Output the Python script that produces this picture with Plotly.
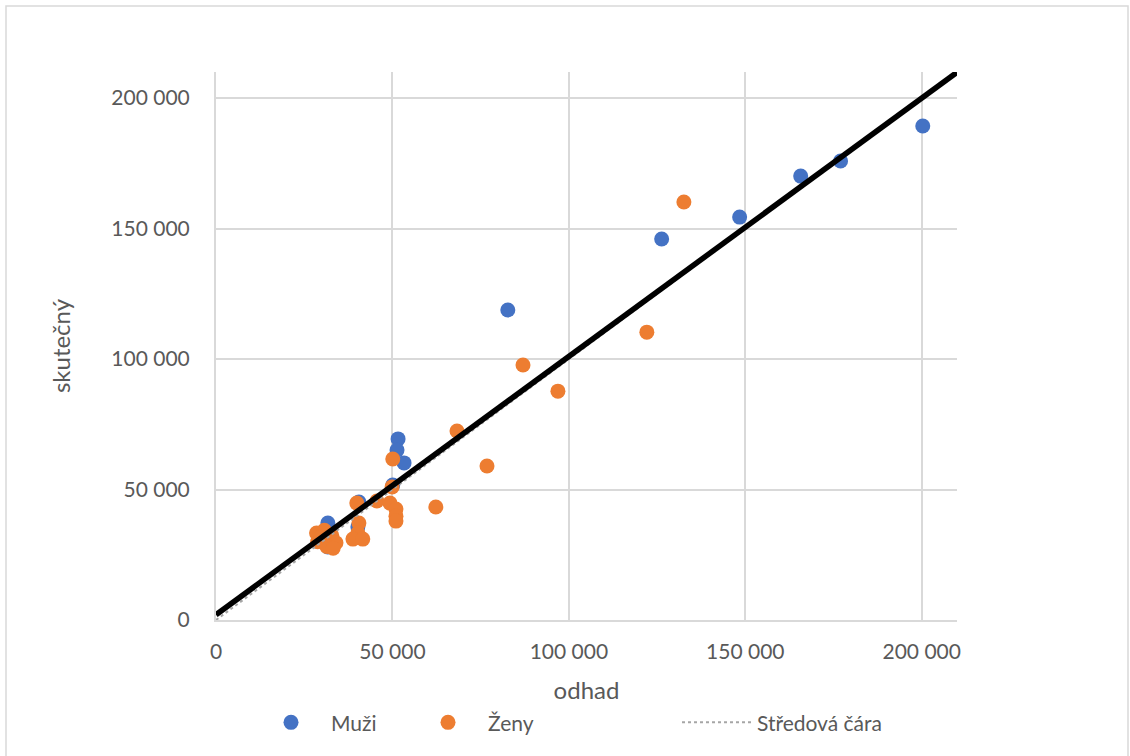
import plotly.graph_objects as go

# Muži (men): estimate vs actual
muzi_odhad = [200300, 177000, 165700, 148400, 126300, 82700, 51600, 51300, 53300,
              50100, 40500, 40200, 31700, 31700]
muzi_skutecny = [189300, 175900, 170100, 154400, 146000, 118800, 69400, 65100, 60200,
                 51700, 45200, 35600, 37200, 28000]

# Ženy (women)
zeny_odhad = [132600, 122100, 87000, 96900, 68300, 76800, 50100, 62300, 49900, 45600,
              39900, 49300, 51000, 51000, 51000, 40500, 40200, 38800, 41600,
              28500, 28800, 30700, 32800, 34000, 31400, 33200, 29800]
zeny_skutecny = [160200, 110300, 97700, 87700, 72400, 59000, 61700, 43300, 51000, 45600,
                 44800, 44800, 42500, 39800, 37900, 37200, 33300, 31000, 31000,
                 33300, 30000, 34400, 32500, 29600, 28200, 27500, 31800]

stred_x = [0, 210000]
stred_y = [0, 210000]

trend_x = [0, 210000]
trend_y = [2000, 209900]

blue = "#4472c4"
orange = "#ed7d31"
grey_text = "#595959"
grid = "#d9d9d9"
font = "Lato, Open Sans, sans-serif"

fig = go.Figure()

fig.add_trace(go.Scatter(
    x=muzi_odhad, y=muzi_skutecny, mode="markers", name="Muži",
    marker=dict(color=blue, size=15), legendwidth=72,
))
fig.add_trace(go.Scatter(
    x=zeny_odhad, y=zeny_skutecny, mode="markers", name="Ženy",
    marker=dict(color=orange, size=15), legendwidth=184,
))
fig.add_trace(go.Scatter(
    x=stred_x, y=stred_y, mode="lines", name="Středová čára",
    line=dict(color="#a6a6a6", width=2, dash="dot"),
))
fig.add_trace(go.Scatter(
    x=trend_x, y=trend_y, mode="lines", showlegend=False,
    line=dict(color="black", width=5.5),
))

W, H = 1130, 756
L, T = 216, 72
pw, ph = 741, 548
R, B = W - L - pw, H - T - ph

fig.update_layout(
    width=W, height=H,
    margin=dict(l=L, r=R, t=T, b=B),
    paper_bgcolor="white", plot_bgcolor="white",
    font=dict(family=font, size=21, color=grey_text),
    xaxis=dict(
        range=[0, 210000], tickvals=[0, 50000, 100000, 150000, 200000],
        ticktext=["0", "50 000", "100 000", "150 000", "200 000"],
        showgrid=True, gridcolor=grid, gridwidth=2, zeroline=False,
        showline=True, linecolor=grid, linewidth=2,
        title=dict(text="odhad", font=dict(size=24, color=grey_text), standoff=20),
        ticks="", ticklen=0, ticklabelstandoff=12,
    ),
    yaxis=dict(
        range=[0, 210000], tickvals=[0, 50000, 100000, 150000, 200000],
        ticktext=["0", "50 000", "100 000", "150 000", "200 000"],
        showgrid=True, gridcolor=grid, gridwidth=2, zeroline=False,
        showline=True, linecolor=grid, linewidth=2,
        title=dict(text="skutečný", font=dict(size=24, color=grey_text), standoff=34),
        ticks="", ticklen=0, ticklabelstandoff=20,
    ),
    legend=dict(
        orientation="h", x=(251 - L) / pw, xanchor="left", y=-0.15, yanchor="top",
        font=dict(size=21, color=grey_text), itemwidth=70,
        traceorder="normal",
    ),
    shapes=[dict(
        type="rect", xref="paper", yref="paper",
        x0=(6 - L) / pw, x1=(1128 - L) / pw,
        y0=(620 - 770) / ph, y1=(620 - 6) / ph,
        line=dict(color=grid, width=1.5), fillcolor="rgba(0,0,0,0)", layer="below",
    )],
)

fig.write_html("out.html", config={"displayModeBar": False},
               post_script="document.body.style.margin='0';")
